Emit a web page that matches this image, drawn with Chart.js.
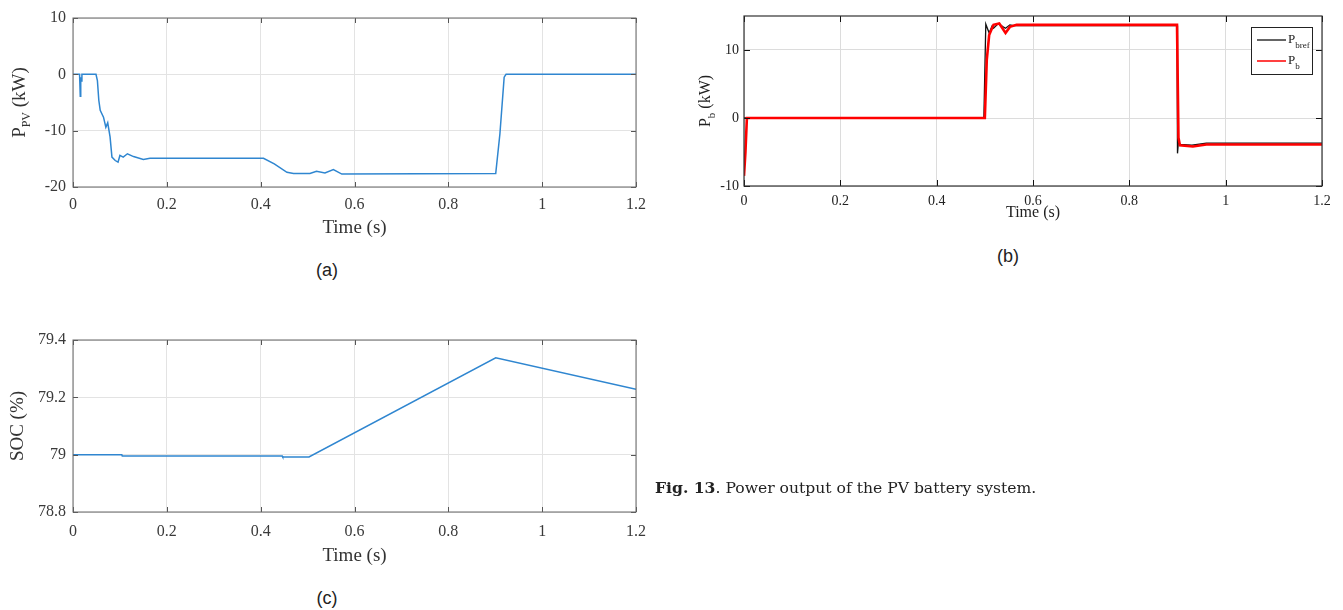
<!DOCTYPE html>
<html>
<head>
<meta charset="utf-8">
<script src="https://cdn.jsdelivr.net/npm/chart.js@4.4.1/dist/chart.umd.min.js"></script>
<style>
  html,body{margin:0;padding:0;background:#fff;}
  body{width:1343px;height:610px;position:relative;overflow:hidden;}
  canvas{position:absolute;}
  .lbl{position:absolute;transform:translate(-50%,-50%);font-family:"Liberation Sans",Arial,sans-serif;font-size:18px;color:#222;white-space:nowrap;}
  .cap{position:absolute;left:655px;top:487px;transform:translateY(-50%);font-family:"DejaVu Serif",serif;font-size:15.6px;color:#222;white-space:nowrap;}
</style>
</head>
<body>
<canvas id="ca" width="660" height="245" style="left:0;top:0"></canvas>
<canvas id="cb" width="653" height="230" style="left:690px;top:0"></canvas>
<canvas id="cc" width="660" height="260" style="left:0;top:320px"></canvas>
<div class="lbl" style="left:327px;top:270px">(a)</div>
<div class="lbl" style="left:1008px;top:256px">(b)</div>
<div class="lbl" style="left:327px;top:598px">(c)</div>
<div class="cap"><b>Fig. 13</b>. Power output of the PV battery system.</div>
<script>
// ---------- data ----------
const timeTicks = [0, 0.2, 0.4, 0.6, 0.8, 1, 1.2];
const timeTickLabels = ['0', '0.2', '0.4', '0.6', '0.8', '1', '1.2'];

// (a) PV power
const ppvTime = [0, 0.014, 0.0155, 0.0165, 0.018, 0.019, 0.049, 0.052, 0.055, 0.058, 0.065, 0.07, 0.074, 0.079, 0.083, 0.09, 0.096, 0.1, 0.107, 0.116, 0.129, 0.15, 0.164, 0.406, 0.429, 0.456, 0.47, 0.505, 0.519, 0.537, 0.555, 0.573, 0.901, 0.91, 0.919, 0.923, 1.2];
const ppvValues = [0, 0, -3.9, -0.5, -1.2, 0, 0, -1.1, -4.6, -6.4, -7.6, -9.4, -8.6, -11.1, -14.7, -15.3, -15.6, -14.4, -14.7, -14.1, -14.6, -15.1, -14.9, -14.9, -15.9, -17.4, -17.6, -17.6, -17.2, -17.5, -16.9, -17.7, -17.6, -10.5, -0.5, 0, 0];
const ppvTicks = [-20, -10, 0, 10];
const ppvTickLabels = ['-20', '-10', '0', '10'];

// (b) battery power
const pbrefTime = [0, 0.498, 0.502, 0.509, 0.515, 0.518, 0.528, 0.538, 0.543, 0.552, 0.56, 0.899, 0.9, 0.902, 0.905, 0.93, 0.96, 1.2];
const pbrefValues = [0, 0, 13.8, 12.5, 13.5, 13.2, 13.9, 13.4, 13.2, 13.7, 13.6, 13.6, -5.2, -3.4, -3.9, -4.0, -3.7, -3.7];
const pbTime = [0, 0.003, 0.004, 0.006, 0.5, 0.504, 0.509, 0.518, 0.53, 0.543, 0.552, 0.566, 0.899, 0.902, 0.905, 0.932, 0.96, 1.2];
const pbValues = [-8.5, -5, -5, 0, 0, 8.5, 12.2, 13.7, 13.9, 12.5, 13.4, 13.7, 13.7, -2.9, -4.0, -4.2, -3.9, -3.9];
const pbTicks = [-10, 0, 10];
const pbTickLabels = ['-10', '0', '10'];

// (c) state of charge
const socTime = [0, 0.104, 0.105, 0.446, 0.447, 0.503, 0.901, 1.2];
const socValues = [79.0, 79.0, 78.995, 78.995, 78.992, 78.992, 79.338, 79.228];
const socTicks = [78.8, 79.0, 79.2, 79.4];
const socTickLabels = ['78.8', '79', '79.2', '79.4'];

const toPts = (xs, ys) => xs.map((x, i) => ({x: x, y: ys[i]}));

// ---------- decoration plugin (box, inward ticks, subscript titles, legend) ----------
const decor = {
  id: 'decor',
  afterDraw(chart, args, o) {
    const {ctx, chartArea: a, scales} = chart;
    ctx.save();
    ctx.strokeStyle = o.tickColor; ctx.lineWidth = 1;
    ctx.beginPath();
    const L = o.tickLen;
    scales.x.ticks.forEach(t => {
      const p = Math.round(scales.x.getPixelForValue(t.value)) + 0.5;
      ctx.moveTo(p, a.bottom); ctx.lineTo(p, a.bottom - L);
      ctx.moveTo(p, a.top); ctx.lineTo(p, a.top + L);
    });
    scales.y.ticks.forEach(t => {
      const p = Math.round(scales.y.getPixelForValue(t.value)) + 0.5;
      ctx.moveTo(a.left, p); ctx.lineTo(a.left + L, p);
      ctx.moveTo(a.right, p); ctx.lineTo(a.right - L, p);
    });
    ctx.stroke();
    ctx.strokeStyle = o.boxColor; ctx.lineWidth = o.boxWidth;
    ctx.strokeRect(a.left, a.top, a.right - a.left, a.bottom - a.top);
    if (o.yTitle) {
      const t = o.yTitle;
      ctx.fillStyle = t.color;
      ctx.textBaseline = 'alphabetic';
      ctx.textAlign = 'left';
      const mainF = t.size + 'px "Liberation Serif"';
      const subF = t.subSize + 'px "Liberation Serif"';
      ctx.font = mainF; const w1 = ctx.measureText(t.main).width; const w3 = ctx.measureText(t.rest).width;
      ctx.font = subF; const w2 = ctx.measureText(t.sub).width;
      const total = w1 + w2 + w3;
      const cy = (a.top + a.bottom) / 2;
      ctx.translate(t.x, cy);
      ctx.rotate(-Math.PI / 2);
      let x = -total / 2;
      const base = t.size * 0.33;
      ctx.font = mainF; ctx.fillText(t.main, x, base); x += w1;
      ctx.font = subF; ctx.fillText(t.sub, x, base + t.subDrop); x += w2;
      ctx.font = mainF; ctx.fillText(t.rest, x, base);
      ctx.setTransform(1, 0, 0, 1, 0, 0);
    }
    if (o.legend) {
      const g = o.legend;
      ctx.fillStyle = '#fff';
      ctx.fillRect(g.x, g.y, g.w, g.h);
      ctx.strokeStyle = '#222'; ctx.lineWidth = 1;
      ctx.strokeRect(g.x + 0.5, g.y + 0.5, g.w, g.h);
      ctx.textAlign = 'left';
      g.items.forEach(it => {
        ctx.strokeStyle = it.color; ctx.lineWidth = it.width;
        ctx.beginPath(); ctx.moveTo(g.x + 6, it.y); ctx.lineTo(g.x + 35, it.y); ctx.stroke();
        ctx.fillStyle = '#222';
        ctx.font = '13px "Liberation Serif"';
        ctx.textBaseline = 'alphabetic';
        ctx.fillText('P', g.x + 37, it.y + 3);
        const pw = ctx.measureText('P').width;
        ctx.font = '9px "Liberation Serif"';
        ctx.fillText(it.sub, g.x + 37 + pw, it.y + 8);
      });
    }
    ctx.restore();
  }
};
Chart.register(decor);

function makeAxis(ticks, labels, min, max, fit, font, pad, grid, title) {
  const ax = {
    type: 'linear', min: min, max: max,
    afterBuildTicks: s => { s.ticks = ticks.map(v => ({value: v})); },
    afterFit: fit,
    ticks: {
      callback: (v, i) => labels[i],
      font: {family: 'Liberation Serif', size: font.size},
      color: font.color, padding: pad, maxRotation: 0, autoSkip: false
    },
    grid: {color: grid, drawTicks: false, lineWidth: 1},
    border: {display: false}
  };
  if (title) ax.title = title;
  return ax;
}

function baseOpts(padding, xAxis, yAxis, decorOpts) {
  return {
    responsive: false, animation: false,
    layout: {padding: padding},
    plugins: {legend: {display: false}, tooltip: {enabled: false}, decor: decorOpts},
    elements: {point: {radius: 0}, line: {tension: 0}},
    scales: {x: xAxis, y: yAxis}
  };
}

// ---------- chart (a) ----------
new Chart(document.getElementById('ca'), {
  type: 'line',
  data: {datasets: [{data: toPts(ppvTime, ppvValues), borderColor: '#2f86d0', borderWidth: 1.5}]},
  options: baseOpts({left: 0, top: 18, right: 24, bottom: 0},
    makeAxis(timeTicks, timeTickLabels, 0, 1.2, s => { s.height = 58; }, {size: 16, color: '#3a3a3a'}, 8, '#e3e3e3',
      {display: true, text: 'Time (s)', color: '#333', font: {family: 'Liberation Serif', size: 19}, padding: {top: 0, bottom: 6}}),
    makeAxis(ppvTicks, ppvTickLabels, -20, 10, s => { s.width = 73; }, {size: 16, color: '#3a3a3a'}, 7, '#e3e3e3'),
    {boxColor: '#666', boxWidth: 1, tickColor: '#555', tickLen: 5,
     yTitle: {x: 19, main: 'P', sub: 'PV', rest: ' (kW)', size: 19, subSize: 12, subDrop: 5, color: '#333'}})
});

// ---------- chart (b) ----------
new Chart(document.getElementById('cb'), {
  type: 'line',
  data: {datasets: [
    {data: toPts(pbTime, pbValues), borderColor: '#ff0000', borderWidth: 2.6},
    {data: toPts(pbrefTime, pbrefValues), borderColor: '#111', borderWidth: 1.3}
  ]},
  options: baseOpts({left: 0, top: 16, right: 21, bottom: 0},
    makeAxis(timeTicks, timeTickLabels, 0, 1.2, s => { s.height = 44; }, {size: 14, color: '#222'}, 7, '#dcdcdc',
      {display: true, text: 'Time (s)', color: '#222', font: {family: 'Liberation Serif', size: 16}, padding: {top: 0, bottom: 8}}),
    makeAxis(pbTicks, pbTickLabels, -10, 15, s => { s.width = 54; }, {size: 14, color: '#222'}, 5, '#dcdcdc'),
    {boxColor: '#333', boxWidth: 1.2, tickColor: '#111', tickLen: 6,
     yTitle: {x: 15, main: 'P', sub: 'b', rest: ' (kW)', size: 16, subSize: 11, subDrop: 5, color: '#222'},
     legend: {x: 561, y: 27, w: 61, h: 47, items: [
       {color: '#111', width: 1.3, sub: 'bref', y: 40},
       {color: '#ff0000', width: 1.5, sub: 'b', y: 61}
     ]}})
});

// ---------- chart (c) ----------
new Chart(document.getElementById('cc'), {
  type: 'line',
  data: {datasets: [{data: toPts(socTime, socValues), borderColor: '#2f86d0', borderWidth: 1.5}]},
  options: baseOpts({left: 0, top: 20, right: 24, bottom: 0},
    makeAxis(timeTicks, timeTickLabels, 0, 1.2, s => { s.height = 68; }, {size: 16, color: '#3a3a3a'}, 10, '#e3e3e3',
      {display: true, text: 'Time (s)', color: '#333', font: {family: 'Liberation Serif', size: 19}, padding: {top: 0, bottom: 13}}),
    makeAxis(socTicks, socTickLabels, 78.8, 79.4, s => { s.width = 73; }, {size: 16, color: '#3a3a3a'}, 7, '#e3e3e3',
      {display: true, text: 'SOC (%)', color: '#333', font: {family: 'Liberation Serif', size: 19}, padding: {top: 7, bottom: 0}}),
    {boxColor: '#666', boxWidth: 1, tickColor: '#555', tickLen: 5})
});
</script>
</body>
</html>
